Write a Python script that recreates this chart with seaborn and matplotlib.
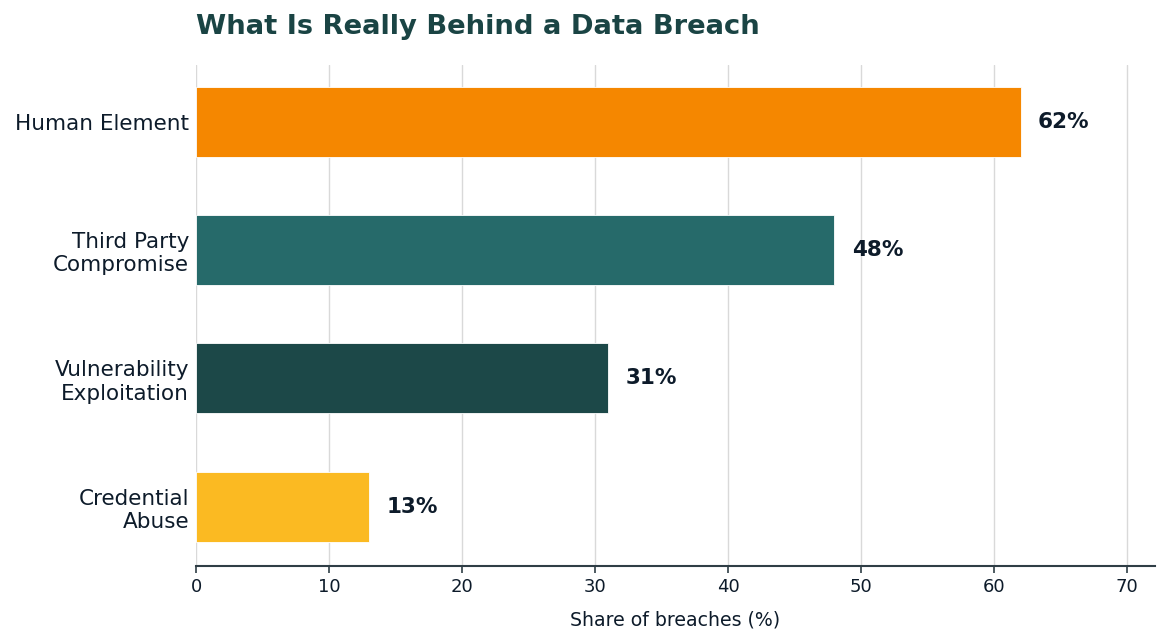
import matplotlib
matplotlib.use("Agg")
import matplotlib.pyplot as plt
import seaborn as sns
import pandas as pd

categories = ["Human Element", "Third Party\nCompromise", "Vulnerability\nExploitation", "Credential\nAbuse"]
values = [62, 48, 31, 13]
colors = ["#F58700", "#266A6A", "#1C4848", "#FBBA22"]
title = "What Is Really Behind a Data Breach"
xlabel = "Share of breaches (%)"

sns.set_theme(style="white")
plt.rcParams['font.family'] = ['DejaVu Sans']

df = pd.DataFrame({"cat": categories, "val": values})
fig = plt.figure(figsize=(11.67, 6.42), dpi=100)
ax = fig.add_axes([196/1167, 1-566/642, (1155-196)/1167, (566-65)/642])

sns.barplot(data=df, y="cat", x="val", hue="cat", palette=colors, legend=False,
            width=0.545, ax=ax, edgecolor="white", linewidth=0.6, saturation=1)

text_col = "#0D1B2A"
for i, v in enumerate(values):
    ax.text(v + 1.3, i, f"{v}%", va="center", ha="left", fontsize=15.5,
            fontweight="bold", color=text_col)

ax.set_xlim(0, 72.1)
ax.set_ylim(3.46, -0.44)
ax.set_xticks(range(0, 71, 10))
ax.xaxis.grid(True, color="#D9D9D9", linewidth=1)
ax.set_axisbelow(True)
for s in ["top", "right", "left"]:
    ax.spines[s].set_visible(False)
ax.spines["bottom"].set_color("#2F3E46")
ax.spines["bottom"].set_linewidth(1.5)
ax.tick_params(axis="x", bottom=True, length=5, width=1.2, color="#2F3E46",
               labelsize=13, labelcolor=text_col, pad=4)
ax.tick_params(axis="y", left=False, length=0, labelsize=15.5, labelcolor=text_col, pad=5)
ax.set_ylabel("")
ax.set_xlabel(xlabel, fontsize=13.6, color=text_col, labelpad=10)
ax.set_title(title, loc="left", fontsize=19.7, fontweight="bold", color="#1A4444", pad=22)

fig.savefig("out.png", dpi=100)
